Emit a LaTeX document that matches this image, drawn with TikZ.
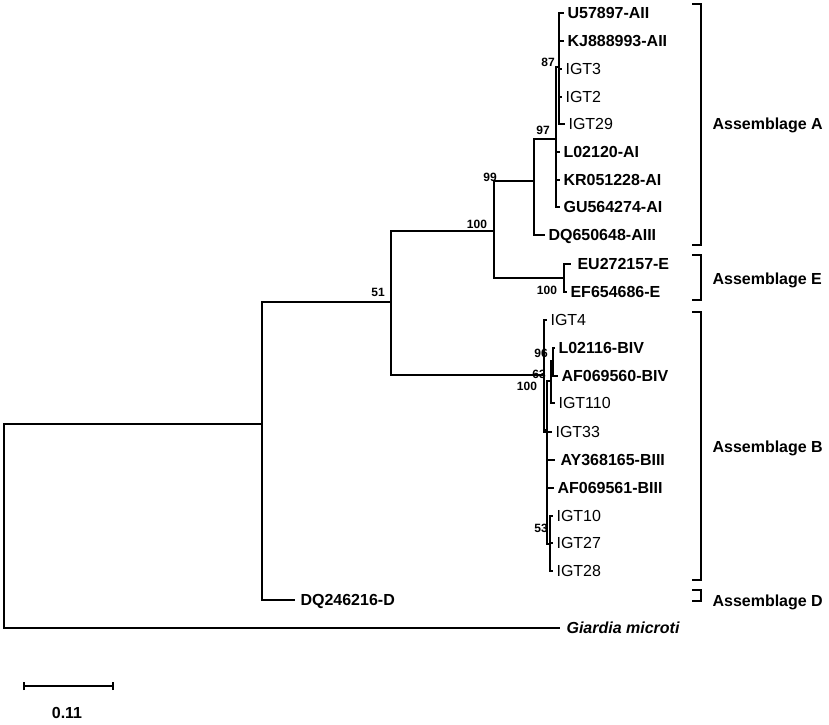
\documentclass[tikz,border=0pt]{standalone}
\usepackage{fontspec}
\setmainfont{Liberation Sans}
\begin{document}
\begin{tikzpicture}[x=1pt,y=-1pt,line width=1.1pt,
  leafb/.style={anchor=west,inner sep=0pt,font=\fontsize{16}{19}\selectfont\bfseries,text height=11.5pt,text depth=0pt},
  leafr/.style={anchor=west,inner sep=0pt,font=\fontsize{16}{19}\selectfont,text height=11.5pt,text depth=0pt},
  leafi/.style={anchor=west,inner sep=0pt,font=\fontsize{16}{19}\selectfont\bfseries\itshape,text height=11.5pt,text depth=0pt},
  boot/.style={inner sep=0pt,font=\fontsize{12}{14}\selectfont\bfseries},
  asm/.style={anchor=west,inner sep=0pt,font=\fontsize{16}{19}\selectfont\bfseries,text height=11.5pt,text depth=0pt},
  br/.style={line width=2pt},
  tip/.style={shorten >=3pt}]
\useasboundingbox[fill=white] (0,0) rectangle (829,724);

% internal nodes
\coordinate (R) at (4,526);
\coordinate (n262) at (262,424);
\coordinate (n391) at (391,302);
\coordinate (n494) at (494,231);
\coordinate (n534) at (534,181);
\coordinate (n556) at (556,139);
\coordinate (n559) at (559,67);
\coordinate (nE) at (564,278);
\coordinate (nB) at (544,375);
\coordinate (nN) at (547,430);
\coordinate (nM) at (551,381);
\coordinate (n96) at (553,361);
\coordinate (n53) at (550,544);

% leaves
\node[leafb] (lU) at (567,13) {U57897-AII};
\node[leafb] (lKJ) at (567,41) {KJ888993-AII};
\node[leafr] (l3) at (565,69) {IGT3};
\node[leafr] (l2) at (565,97) {IGT2};
\node[leafr] (l29) at (568,124) {IGT29};
\node[leafb] (lL1) at (563,152) {L02120-AI};
\node[leafb] (lKR) at (563,180) {KR051228-AI};
\node[leafb] (lGU) at (563,207) {GU564274-AI};
\node[leafb] (lDQ6) at (548,235) {DQ650648-AIII};
\node[leafb] (lEU) at (577,264) {EU272157-E};
\node[leafb] (lEF) at (570,292) {EF654686-E};
\node[leafr] (l4) at (550,320) {IGT4};
\node[leafb] (lL2) at (558,348) {L02116-BIV};
\node[leafb] (lAF0) at (561,376) {AF069560-BIV};
\node[leafr] (l110) at (558,403) {IGT110};
\node[leafr] (l33) at (555,432) {IGT33};
\node[leafb] (lAY) at (560,460) {AY368165-BIII};
\node[leafb] (lAF1) at (557,488) {AF069561-BIII};
\node[leafr] (l10) at (556,516) {IGT10};
\node[leafr] (l27) at (556,543) {IGT27};
\node[leafr] (l28) at (556,571) {IGT28};
\node[leafb] (lD) at (300,600) {DQ246216-D};
\node[leafi] (lG) at (566,628) {Giardia microti};

% branches
\draw (R) |- (n262);
\draw[tip,shorten >=6pt] (R) |- (lG.west);
\draw (n262) |- (n391);
\draw[tip,shorten >=5pt] (n262) |- (lD.west);
\draw (n391) |- (n494);
\draw (n391) |- (nB);
\draw (n494) |- (n534);
\draw (n494) |- (nE);
\draw (n534) |- (n556);
\draw[tip] (n534) |- (lDQ6.west);
\draw (n556) |- (n559);
\draw[tip] (n556) |- (lL1.west);
\draw[tip] (n556) |- (lKR.west);
\draw[tip] (n556) |- (lGU.west);
\draw[tip] (n559) |- (lU.west);
\draw[tip] (n559) |- (lKJ.west);
\draw[tip] (n559) |- (l3.west);
\draw[tip] (n559) |- (l2.west);
\draw[tip] (n559) |- (l29.west);
\draw[tip,shorten >=6pt] (nE) |- (lEU.west);
\draw[tip] (nE) |- (lEF.west);
\draw[tip] (nB) |- (l4.west);
\draw[tip] (nB) |- (l33.west);
\draw (nB) |- (nN);
\draw (nN) |- (nM);
\draw[tip,shorten >=5pt] (nN) |- (lAY.west);
\draw[tip] (nN) |- (lAF1.west);
\draw (nN) |- (n53);
\draw (nM) |- (n96);
\draw[tip] (nM) |- (l110.west);
\draw[tip] (n96) |- (lL2.west);
\draw[tip] (n96) |- (lAF0.west);
\draw[tip] (n53) |- (l10.west);
\draw[tip] (n53) |- (l27.west);
\draw[tip] (n53) |- (l28.west);

% bootstrap values
\node[boot] (b87) at (548,62) {87};
\node[boot] (b97) at (543,130) {97};
\node[boot] (b99) at (490,177) {99};
\node[boot] (b100a) at (477,224) {100};
\node[boot] (b100e) at (547,290) {100};
\node[boot] (b51) at (378,292) {51};
\node[boot] (b96) at (541,353) {96};
\node[boot] (b63) at (539,374) {63};
\node[boot] (b100b) at (527,386) {100};
\node[boot] (b53) at (541,528) {53};

% assemblage brackets
\draw[br] (692,4) -- (701,4) -- (701,245) -- (692,245);
\node[asm] (aA) at (712,124) {Assemblage A};
\draw[br] (692,255) -- (701,255) -- (701,300) -- (692,300);
\node[asm] (aE) at (712,279) {Assemblage E};
\draw[br] (692,312) -- (701,312) -- (701,580) -- (692,580);
\node[asm] (aB) at (712,447) {Assemblage B};
\draw[br] (692,590) -- (701,590) -- (701,601) -- (692,601);
\node[asm] (aD) at (712,601) {Assemblage D};

% scale bar
\coordinate (s1) at (24,686);
\coordinate (s2) at (113,686);
\draw (s1) -- (s2);
\draw ([yshift=-4pt]s1) -- ([yshift=4pt]s1);
\draw ([yshift=-4pt]s2) -- ([yshift=4pt]s2);
\node[boot,font=\fontsize{16}{19}\selectfont\bfseries] (sl) at (67,713) {0.11};
\end{tikzpicture}
\end{document}
